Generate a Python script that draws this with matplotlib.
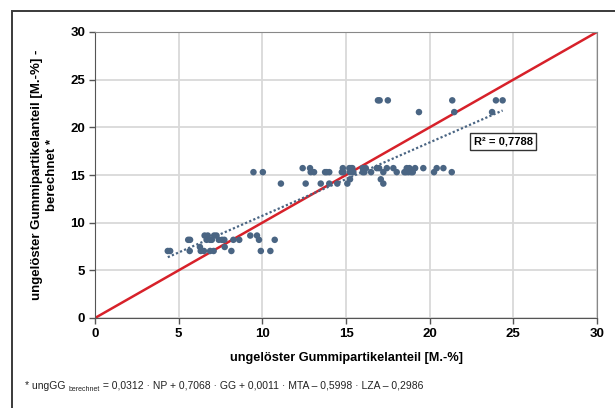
import numpy as np
import matplotlib
matplotlib.use('Agg')
import matplotlib.pyplot as plt
from matplotlib.patches import Rectangle

FONT = ['Liberation Sans', 'DejaVu Sans']

# measured vs. calculated undissolved rubber share, grouped by calculated level
calc_levels = [7.03, 7.45, 8.2, 8.65, 14.1, 14.55, 15.3, 15.72, 21.6, 22.83]
measured = [
    [4.35, 4.49, 5.66, 6.32, 6.51, 6.88, 7.09, 8.15, 9.91, 10.48],
    [6.27, 7.75],
    [5.57, 5.68, 6.67, 6.88, 6.98, 7.40, 7.59, 7.73, 8.27, 8.62, 9.80, 10.74],
    [6.55, 6.74, 7.12, 7.26, 9.28, 9.68],
    [11.11, 12.59, 13.49, 14.00, 14.48, 15.08, 17.23],
    [15.24, 17.08],
    [9.47, 10.03, 12.89, 13.09, 13.75, 13.85, 14.00, 14.75, 14.84, 15.24, 15.44,
     16.00, 16.10, 16.50, 17.23, 18.03, 18.49, 18.59, 18.73, 18.89, 18.99, 20.26, 21.32],
    [12.41, 12.85, 14.81, 15.20, 15.30, 15.38, 16.00, 16.18, 16.84, 16.98, 17.44,
     17.83, 18.63, 18.79, 19.13, 19.62, 20.42, 20.82],
    [19.36, 21.47, 23.73],
    [16.91, 17.01, 17.50, 21.35, 23.96, 24.36],
]
r2_text = 'R² = 0,7788'
ticks = [0, 5, 10, 15, 20, 25, 30]

x = np.concatenate([np.array(m) for m in measured])
y = np.concatenate([[lv] * len(m) for lv, m in zip(calc_levels, measured)])

plt.rcParams['font.family'] = FONT

fig = plt.figure(figsize=(6.15, 4.08), dpi=100)
ax = fig.add_axes([95 / 615, 1 - 318 / 408, 502 / 615, 286 / 408])

# outer frame around the figure
fig.patches.append(Rectangle((12 / 615, -0.1), 1.0, (408 - 11) / 408 + 0.1,
                             transform=fig.transFigure, fill=False,
                             edgecolor='#3a3a3a', linewidth=1.4))

ax.grid(True, color='#d9d9d9', linewidth=1.3)
ax.set_axisbelow(True)

# line of equality
ax.plot([0, 30], [0, 30], color='#d7212a', linewidth=1.8, zorder=2)

# linear trend of the points
k, d = np.polyfit(x, y, 1)
xs = np.array([x.min(), x.max()])
ax.plot(xs, k * xs + d, color='#4a6583', linestyle=(0, (1, 1)), linewidth=1.6, zorder=3)

ax.scatter(x, y, s=22, color='#4a6583', edgecolors='none', zorder=4)

ax.set_xlim(0, 30)
ax.set_ylim(0, 30)
ax.set_xticks(ticks)
ax.set_yticks(ticks)
ax.tick_params(direction='out', length=4, width=1, color='#555555', pad=3,
               labelsize=9.5)
for lab in ax.get_xticklabels() + ax.get_yticklabels():
    lab.set_fontweight('bold')
for side in ['left', 'bottom']:
    ax.spines[side].set_color('#555555')
for side in ['top', 'right']:
    ax.spines[side].set_color('#888888')

ax.set_xlabel('ungelöster Gummipartikelanteil [M.-%]', fontweight='bold',
              fontsize=9.2, labelpad=9)
ax.set_ylabel('ungelöster Gummipartikelanteil [M.-%] -\nberechnet *',
              fontweight='bold', fontsize=9.5, labelpad=9, linespacing=1.3)

ax.text(24.4, 18.5, r2_text, fontweight='bold', fontsize=8,
        ha='center', va='center', zorder=5,
        bbox=dict(boxstyle='square,pad=0.3', facecolor='white',
                  edgecolor='#333333', linewidth=1))

# footnote with the regression formula, subscript set as a separate small text
base_y = 1 - 389 / 408
t1 = fig.text(25 / 615, base_y, '* ungGG ', fontsize=7.5,
              va='baseline', ha='left', color='#222222')
t2 = ax.annotate('berechnet', xy=(1, base_y), xycoords=(t1, 'figure fraction'),
                 xytext=(0, -1.5), textcoords='offset points', fontsize=5,
                 va='baseline', ha='left', color='#222222')
ax.annotate(' = 0,0312 · NP + 0,7068 · GG + 0,0011 · MTA – 0,5998 · LZA – 0,2986',
            xy=(1, base_y), xycoords=(t2, 'figure fraction'), fontsize=7.5,
            va='baseline', ha='left', color='#222222')

fig.savefig('out.png', dpi=100)
